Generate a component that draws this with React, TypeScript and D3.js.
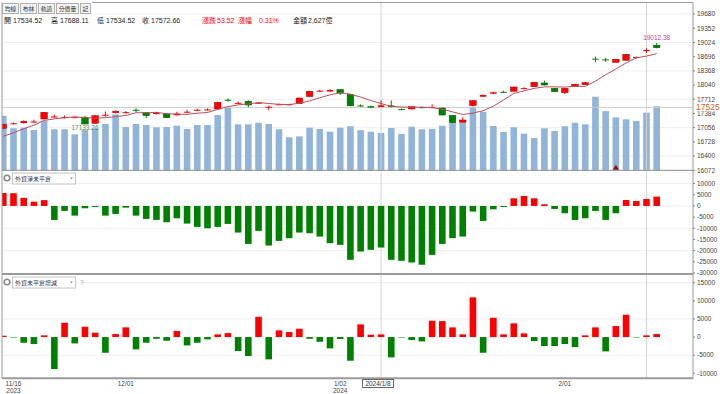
import React, { useRef, useEffect } from 'react';
import * as d3 from 'd3';

const dates = [
  '2023/11/15', '2023/11/16', '2023/11/17', '2023/11/20', '2023/11/21', '2023/11/22', '2023/11/23', '2023/11/24',
  '2023/11/27', '2023/11/28', '2023/11/29', '2023/11/30',
  '2023/12/01', '2023/12/04', '2023/12/05', '2023/12/06', '2023/12/07', '2023/12/08', '2023/12/11', '2023/12/12',
  '2023/12/13', '2023/12/14', '2023/12/15', '2023/12/18', '2023/12/19', '2023/12/20', '2023/12/21', '2023/12/22',
  '2023/12/25', '2023/12/26', '2023/12/27', '2023/12/28', '2023/12/29',
  '2024/01/02', '2024/01/03', '2024/01/04', '2024/01/05', '2024/01/08', '2024/01/09', '2024/01/10', '2024/01/11',
  '2024/01/12', '2024/01/15', '2024/01/16', '2024/01/17', '2024/01/18', '2024/01/19', '2024/01/22', '2024/01/23',
  '2024/01/24', '2024/01/25', '2024/01/26', '2024/01/29', '2024/01/30', '2024/01/31',
  '2024/02/01', '2024/02/02', '2024/02/05', '2024/02/15', '2024/02/16', '2024/02/19', '2024/02/20', '2024/02/21',
  '2024/02/22', '2024/02/23',
];

const opens = [
  17042, 17138, 17165, 17190, 17257, 17305, 17290, 17296, 17287, 17158, 17340, 17396,
  17405, 17470, 17403, 17380, 17373, 17343, 17410, 17458, 17465, 17488, 17702, 17615, 17666, 17625, 17530, 17585,
  17588, 17610, 17775, 17895, 17892,
  17937, 17828, 17570, 17553, 17534.52, 17570, 17485, 17488, 17530, 17520, 17511, 17343, 17181, 17569, 17772, 17841,
  17885, 17897, 17960, 18003, 18089, 17966,
  17865, 18012, 18049, 18650, 18635, 18567, 18613, 18675, 18835, 18960,
];
const highs = [
  17150, 17175, 17225, 17240, 17420, 17360, 17340, 17320, 17330, 17345, 17430, 17455,
  17440, 17504, 17410, 17420, 17385, 17425, 17470, 17495, 17500, 17655, 17735, 17660, 17690, 17645, 17564, 17615,
  17610, 17750, 17905, 17930, 17945,
  17950, 17835, 17595, 17565, 17688.11, 17684, 17500, 17550, 17545, 17595, 17520, 17350, 17296, 17690, 17825, 17890,
  17910, 18005, 17990, 18115, 18142, 17975,
  17975, 18070, 18110, 18696, 18672, 18645, 18760, 18700, 18890, 19012.38,
];
const lows = [
  17030, 17136, 17150, 17165, 17250, 17290, 17270, 17280, 17133.26, 17145, 17310, 17385,
  17380, 17412, 17273, 17360, 17280, 17335, 17400, 17440, 17450, 17480, 17655, 17600, 17527, 17610, 17458, 17575,
  17570, 17600, 17770, 17880, 17885,
  17811, 17555, 17540, 17510, 17534.52, 17525, 17460, 17480, 17505, 17510, 17340, 17165, 17175, 17550, 17760, 17830,
  17860, 17890, 17945, 17995, 18030, 17880,
  17834, 18000, 18040, 18567, 18580, 18560, 18600, 18660, 18780, 18890,
];
const closes = [
  17135, 17158, 17211, 17200, 17412, 17315, 17300, 17300, 17142, 17333, 17355, 17442,
  17415, 17462, 17333, 17395, 17287, 17379, 17425, 17470, 17478, 17643, 17695, 17630, 17580, 17632, 17540, 17597,
  17598, 17742, 17897, 17912, 17927,
  17853, 17562, 17560, 17520, 17572.66, 17534, 17478, 17541, 17520, 17530, 17349, 17172, 17234, 17680, 17811, 17874,
  17878, 17996, 17970, 18105, 18042, 17888,
  17966, 18059, 18096, 18643, 18627, 18636, 18752, 18688, 18850, 18904,
];
// closes before the first visible day, only used to start the 5-day average
const priorCloses = [16760, 16740, 16800, 16860];

// 成交金額（億）
const volumes = [
  3840, 2960, 3000, 2840, 3490, 2890, 2890, 2530, 2840, 2960, 3260, 3940,
  3050, 3260, 3190, 3030, 3050, 3140, 2910, 3190, 3190, 3890, 4440, 3240, 3240, 3350, 3260, 2890,
  2320, 2390, 3000, 2910, 2720,
  3000, 3100, 2820, 2720, 2627, 2980, 2560, 3070, 2890, 2910, 3140, 3380, 3330, 4480, 4130, 3120,
  2700, 3030, 2580, 2270, 2960, 2770,
  3100, 3350, 3240, 5180, 4170, 3730, 3590, 3470, 4060, 4510,
];

// 外資淨未平倉
const netOI = [
  5800, 5700, 3600, 1900, 2600, -6250, -2230, -4330, -1030, -300, -4330, -3570,
  -750, -4330, -5800, -6250, -7290, -5510, -7890, -9380, -9970, -9380, -8040, -11900, -17000, -11160, -17700, -15630,
  -14430, -11900, -12200, -13690, -16670,
  -17400, -24100, -20400, -19640, -18600, -24100, -24550, -25300, -26300, -21900, -17000, -14400, -13700, -2530, -6700, -1500,
  -300, 3420, 4460, 3420, 750, -1340,
  -3270, -6250, -5510, -2230, -6250, -3270, 2680, 2230, 3120, 4170,
];

// 外資未平倉增減
const oiChange = [
  370, -250, -1570, -1930, 470, -8840, 3950, -1750, 2850, 1200, -4330, 830,
  2670, -3400, -1570, -470, -1020, 1660, -2300, -1570, -640, 740, 1100, -3860, -5240, 5600, -6150, 1840,
  1380, 2300, -470, -1290, -3130,
  -550, -6530, 3500, 640, 740, -5610, -200, -830, -1200, 4500, 4400, 2670, 740, 10960, -4330, 5330,
  740, 3780, 1020, -1100, -2480, -2480,
  -1930, -2760, 470, 2670, -3950, 3040, 6160, -200, 470, 830,
];

const priceTicks = [19680, 19352, 19024, 18696, 18368, 18040, 17712, 17384, 17056, 16728, 16400, 16072];
const priceGrid = [19680, 19024, 18368, 17712, 17056, 16400];
const oiTicks = [10000, 5000, 0, -5000, -10000, -15000, -20000, -25000, -30000];
const oiGrid = [10000, 0, -10000, -20000];
const chgTicks = [15000, 10000, 5000, 0, -5000, -10000];
const chgGrid = [15000, 5000, -5000];

const tickDates = ['2023/11/16', '2023/12/01', '2024/01/02', '2024/02/01'];
const tickLabels = ['11/16', '12/01', '1/02', '2/01'];
const tickYears = ['2023', '', '2024', ''];

const tabLabels = ['均線', '布林', '軌道', '分價量', '記'];

const crossDate = '2024/01/08';
const crossLabel = '2024/1/8';
const crossPrice = 17525;
const markerDate = '2024/02/22';
const arrowDate = '2024/02/19';

const RED = '#ff0000';
const GREEN = '#008000';
const FONT = "'Liberation Sans', Arial, 'Noto Sans CJK TC', sans-serif";

export default function App() {
  const svgRef = useRef<SVGSVGElement>(null);

  useEffect(() => {
    document.body.style.margin = '0';
    const svg = d3.select(svgRef.current);
    svg.selectAll('*').remove();

    const left = 2, right = 693;
    const priceTop = 3, priceBottom = 170.3;
    const oiBottom = 274;
    const chgBottom = 378.3;
    const barW = 6.6;

    const x = d3.scalePoint<string>().domain(dates).range([3.3, 656.7]);
    const yPrice = d3.scaleLinear().domain([16072, 19680]).range([priceBottom, 14.1]);
    const yVol = d3.scaleLinear().domain([0, 7000]).range([priceBottom, 70.9]);
    const yOI = d3.scaleLinear().domain([-30000, 10000]).range([273, 183.6]);
    const yChg = d3.scaleLinear().domain([-10000, 15000]).range([373.3, 282.7]);

    const defs = svg.append('defs');
    defs.append('clipPath').attr('id', 'plotClip')
      .append('rect').attr('x', left).attr('y', 0).attr('width', right - left).attr('height', 394);

    const plot = svg.append('g').attr('clip-path', 'url(#plotClip)');

    // grid lines
    plot.selectAll('.pg').data(priceGrid).enter().append('line')
      .attr('x1', left).attr('x2', right).attr('y1', d => yPrice(d)).attr('y2', d => yPrice(d))
      .attr('stroke', '#eeeeee');
    plot.selectAll('.og').data(oiGrid).enter().append('line')
      .attr('x1', left).attr('x2', right).attr('y1', d => yOI(d)).attr('y2', d => yOI(d))
      .attr('stroke', '#eeeeee');
    plot.selectAll('.cg').data(chgGrid).enter().append('line')
      .attr('x1', left).attr('x2', right).attr('y1', d => yChg(d)).attr('y2', d => yChg(d))
      .attr('stroke', '#eeeeee');

    // volume
    plot.selectAll('.vol').data(dates).enter().append('rect')
      .attr('x', d => x(d)! - barW / 2)
      .attr('y', (d, i) => yVol(volumes[i]))
      .attr('width', barW)
      .attr('height', (d, i) => priceBottom - yVol(volumes[i]))
      .attr('fill', '#92b4d9');

    // vertical reference lines
    [crossDate, markerDate].forEach(d => {
      plot.append('line')
        .attr('x1', x(d)!).attr('x2', x(d)!).attr('y1', priceTop).attr('y2', chgBottom)
        .attr('stroke', '#d4d4d4');
    });
    plot.append('line')
      .attr('x1', left).attr('x2', right).attr('y1', yPrice(crossPrice)).attr('y2', yPrice(crossPrice))
      .attr('stroke', '#cccccc');

    // candles
    const candles = plot.selectAll('.candle').data(dates).enter().append('g');
    const col = (i: number) => (closes[i] >= opens[i] ? RED : GREEN);
    const edge = (i: number) => (closes[i] >= opens[i] ? '#b00000' : '#005a00');
    candles.append('line')
      .attr('x1', d => x(d)!).attr('x2', d => x(d)!)
      .attr('y1', (d, i) => yPrice(highs[i])).attr('y2', (d, i) => yPrice(lows[i]))
      .attr('stroke', (d, i) => col(i));
    candles.append('rect')
      .attr('x', d => x(d)! - barW / 2)
      .attr('y', (d, i) => yPrice(Math.max(opens[i], closes[i])))
      .attr('width', barW)
      .attr('height', (d, i) => Math.max(1, Math.abs(yPrice(opens[i]) - yPrice(closes[i]))))
      .attr('fill', (d, i) => col(i))
      .attr('stroke', (d, i) => (Math.abs(yPrice(opens[i]) - yPrice(closes[i])) > 2 ? edge(i) : 'none'))
      .attr('stroke-width', 0.5);

    // 5-day average
    const all = priorCloses.concat(closes);
    const ma = closes.map((c, i) => d3.mean(all.slice(i, i + 5))!);
    const line = d3.line<number>().x((d, i) => x(dates[i])!).y(d => yPrice(d));
    plot.append('path').datum(ma).attr('d', line)
      .attr('fill', 'none').attr('stroke', '#b9515f').attr('stroke-width', 1);

    // high / low labels (the first, half-hidden bar is left out)
    const lowIdx = d3.minIndex(lows.slice(1)) + 1;
    const highIdx = d3.maxIndex(highs);
    svg.append('text').attr('x', x(dates[lowIdx])!).attr('y', yPrice(lows[lowIdx]) + 5.5)
      .attr('text-anchor', 'middle').attr('font-size', 6.5).attr('fill', '#4f8f4f')
      .text(lows[lowIdx].toFixed(2));
    svg.append('text').attr('x', x(dates[highIdx])!).attr('y', yPrice(highs[highIdx]) - 3)
      .attr('text-anchor', 'middle').attr('font-size', 6.5).attr('fill', '#c2409a')
      .text(highs[highIdx].toFixed(2));

    // small marker at the bottom of the price panel
    const ax = x(arrowDate)!;
    plot.append('path')
      .attr('d', `M${ax - 3},${priceBottom - 0.5}L${ax + 3},${priceBottom - 0.5}L${ax},${priceBottom - 5.5}Z`)
      .attr('fill', '#8b0a1a');

    // net open interest
    plot.selectAll('.oi').data(dates).enter().append('rect')
      .attr('x', d => x(d)! - barW / 2)
      .attr('y', (d, i) => Math.min(yOI(0), yOI(netOI[i])))
      .attr('width', barW)
      .attr('height', (d, i) => Math.max(1, Math.abs(yOI(netOI[i]) - yOI(0))))
      .attr('fill', (d, i) => (netOI[i] >= 0 ? RED : GREEN));

    // change of open interest
    plot.selectAll('.chg').data(dates).enter().append('rect')
      .attr('x', d => x(d)! - barW / 2)
      .attr('y', (d, i) => Math.min(yChg(0), yChg(oiChange[i])))
      .attr('width', barW)
      .attr('height', (d, i) => Math.max(1, Math.abs(yChg(oiChange[i]) - yChg(0))))
      .attr('fill', (d, i) => (oiChange[i] >= 0 ? RED : (Math.abs(oiChange[i]) < 300 ? '#7fbf7f' : GREEN)));

    // frames
    const frame = svg.append('g').attr('fill', 'none');
    frame.append('line').attr('x1', 92).attr('x2', right).attr('y1', 2.5).attr('y2', 2.5).attr('stroke', '#9a9a9a');
    frame.append('line').attr('x1', left).attr('x2', left).attr('y1', 2.5).attr('y2', chgBottom).attr('stroke', '#9a9a9a');
    frame.append('line').attr('x1', right).attr('x2', right).attr('y1', 2.5).attr('y2', chgBottom).attr('stroke', '#9a9a9a');
    frame.append('line').attr('x1', left).attr('x2', right).attr('y1', priceBottom).attr('y2', priceBottom).attr('stroke', '#8a8a8a');
    frame.append('line').attr('x1', left).attr('x2', right).attr('y1', oiBottom).attr('y2', oiBottom).attr('stroke', '#9a9a9a').attr('stroke-width', 2);
    frame.append('line').attr('x1', left).attr('x2', right).attr('y1', chgBottom).attr('y2', chgBottom).attr('stroke', '#9a9a9a').attr('stroke-width', 2);

    // right axes
    const axisText = (ticks: number[], scale: d3.ScaleLinear<number, number>) => {
      svg.append('g').selectAll('text').data(ticks).enter().append('text')
        .attr('x', 697).attr('y', d => scale(d)).attr('dy', '0.35em')
        .attr('font-size', 6.5).attr('fill', '#444').text(d => String(d));
      svg.append('g').selectAll('line').data(ticks).enter().append('line')
        .attr('x1', right).attr('x2', right + 2).attr('y1', d => scale(d)).attr('y2', d => scale(d))
        .attr('stroke', '#888');
    };
    axisText(priceTicks, yPrice);
    axisText(oiTicks, yOI);
    axisText(chgTicks, yChg);

    svg.append('rect').attr('x', 694).attr('y', yPrice(crossPrice) - 5.5).attr('width', 26).attr('height', 9.5).attr('fill', '#fff');
    svg.append('text').attr('x', 696).attr('y', yPrice(crossPrice)).attr('dy', '0.35em')
      .attr('font-size', 8.5).attr('fill', '#c8641e').text(String(crossPrice));

    // bottom date axis
    const xa = svg.append('g');
    tickDates.forEach((d, k) => {
      xa.append('text').attr('x', x(d)!).attr('y', 385.5).attr('text-anchor', 'middle')
        .attr('font-size', 6.5).attr('fill', '#444').text(tickLabels[k]);
      if (tickYears[k]) {
        xa.append('text').attr('x', x(d)!).attr('y', 392.5).attr('text-anchor', 'middle')
          .attr('font-size', 6.5).attr('fill', '#444').text(tickYears[k]);
      }
    });
    const cx = x(crossDate)!;
    xa.append('rect').attr('x', cx - 18.5).attr('y', 379.5).attr('width', 31).attr('height', 8)
      .attr('fill', '#fff').attr('stroke', '#666');
    xa.append('text').attr('x', cx - 3).attr('y', 386).attr('text-anchor', 'middle')
      .attr('font-size', 6.5).attr('fill', '#333').text(crossLabel);

    // toolbar tabs
    let tx = 2;
    tabLabels.forEach(t => {
      const w = t.length * 6 + 4;
      svg.append('rect').attr('x', tx + 0.5).attr('y', 3.5).attr('width', w).attr('height', 10)
        .attr('fill', '#f3f3f3').attr('stroke', '#b0b0b0');
      svg.append('text').attr('x', tx + 0.5 + w / 2).attr('y', 11).attr('text-anchor', 'middle')
        .attr('font-size', 5.8).attr('fill', '#333').text(t);
      tx += w + 2;
    });

    // header values
    const header: [string, number, string][] = [
      ['開', 4, '#222'], ['17534.52', 13, '#222'], ['高', 51, '#222'], ['17688.11', 60, '#222'],
      ['低', 97, '#222'], ['17534.52', 106, '#222'], ['收', 142, '#222'], ['17572.66', 151, '#222'],
      ['漲跌', 202, RED], ['53.52', 217, RED], ['漲幅', 238, RED], ['0.31%', 259, RED],
      ['金額', 293, '#222'], ['2,627億', 308, '#222'],
    ];
    header.forEach(([t, hx, c]) => {
      svg.append('text').attr('x', hx).attr('y', 23).attr('font-size', 7).attr('fill', c).text(t);
    });

    // indicator legends
    const legend = (y0: number, label: string, help: boolean) => {
      const g = svg.append('g');
      g.append('circle').attr('cx', 7).attr('cy', y0 + 5.5).attr('r', 2.8)
        .attr('fill', '#fff').attr('stroke', '#8a8a8a').attr('stroke-width', 1.6);
      g.append('rect').attr('x', 12.5).attr('y', y0 + 0.5).attr('width', 63).attr('height', 11)
        .attr('fill', '#fff').attr('stroke', '#c4c4c4');
      g.append('text').attr('x', 15).attr('y', y0 + 8.3).attr('font-size', 6).attr('fill', '#333').text(label);
      g.append('path').attr('d', `M70,${y0 + 5}L73,${y0 + 5}L71.5,${y0 + 6.8}Z`).attr('fill', '#888');
      if (help) g.append('text').attr('x', 80).attr('y', y0 + 8.5).attr('font-size', 6.5).attr('fill', '#999').text('?');
    };
    legend(172.5, '外資淨未平倉', false);
    legend(276.5, '外資未平倉增減', true);
  }, []);

  return (
    <svg ref={svgRef} width={720} height={394} style={{ display: 'block', fontFamily: FONT, background: '#fff' }} />
  );
}
